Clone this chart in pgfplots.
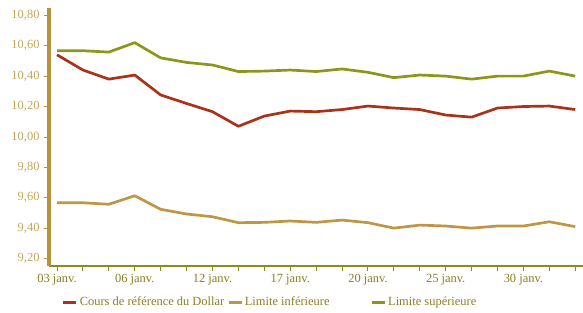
\documentclass[border=0pt]{standalone}
\usepackage{pgfplots}
\pgfplotsset{compat=1.18}
\usepackage{fontspec}
\setmainfont{Liberation Serif}
\definecolor{cred}{HTML}{A8321A}
\definecolor{cgold}{HTML}{BE9646}
\definecolor{colive}{HTML}{8C961A}
\definecolor{axgold}{HTML}{B8923E}
\definecolor{axolive}{HTML}{8C8C1E}
\definecolor{ylab}{HTML}{C4A55A}
\definecolor{xlab}{HTML}{8A7E22}
\begin{document}
\begin{tikzpicture}
\begin{axis}[
  name=ax,
  scale only axis,
  width=534bp, height=258bp,
  xmin=-0.31, xmax=20.3,
  ymin=9.151, ymax=10.848,
  axis x line*=bottom, axis y line*=left,
  x axis line style={draw=axolive, line width=2.2pt, -},
  y axis line style={draw=axgold, line width=3.4pt, -},
  xtick={0,...,20},
  xticklabels={03 janv.,,,06 janv.,,,12 janv.,,,17 janv.,,,20 janv.,,,25 janv.,,,30 janv.,,},
  ytick={9.2,9.4,9.6,9.8,10.0,10.2,10.4,10.6,10.8},
  /pgf/number format/.cd, use comma, fixed, fixed zerofill, precision=2, assume math mode=true,
  /pgfplots/.cd,
  tick align=outside,
  major tick length=5bp,
  x tick style={draw=axolive, line width=1pt},
  y tick style={draw=axgold, line width=0.8pt},
  tick label style={font=\fontsize{12.5}{14}\selectfont},
  yticklabel style={text=ylab, xshift=-1bp},
  xticklabel style={text=xlab},
  legend columns=3,
  legend style={at={(axis description cs:0,0)}, anchor=north west, xshift=10bp, yshift=-27bp,
    draw=none, fill=none, font=\fontsize{12.5}{14}\selectfont, text=xlab,
    /tikz/every even column/.append style={column sep=1bp}},
  legend image code/.code={\draw[#1, line width=2.6pt] (0bp,0bp) -- (13bp,0bp);},
  every axis plot/.append style={line width=2.7pt, no markers, line join=round},
]
\addplot[cred] coordinates {
(0,10.54) (1,10.44) (2,10.38) (3,10.407) (4,10.276) (5,10.22) (6,10.166) (7,10.07)
(8,10.137) (9,10.17) (10,10.166) (11,10.18) (12,10.203) (13,10.19) (14,10.18)
(15,10.144) (16,10.13) (17,10.19) (18,10.20) (19,10.203) (20,10.18)};
\addlegendentry{Cours de référence du Dollar}
\addplot[cgold] coordinates {
(0,9.567) (1,9.567) (2,9.557) (3,9.613) (4,9.524) (5,9.493) (6,9.475) (7,9.436)
(8,9.438) (9,9.447) (10,9.438) (11,9.453) (12,9.436) (13,9.40) (14,9.42)
(15,9.414) (16,9.40) (17,9.414) (18,9.414) (19,9.442) (20,9.41)};
\addlegendentry{Limite inférieure\rule{38bp}{0pt}}
\addplot[colive] coordinates {
(0,10.567) (1,10.567) (2,10.558) (3,10.62) (4,10.52) (5,10.49) (6,10.473) (7,10.43)
(8,10.433) (9,10.44) (10,10.43) (11,10.447) (12,10.425) (13,10.39) (14,10.407)
(15,10.40) (16,10.38) (17,10.40) (18,10.40) (19,10.433) (20,10.40)};
\addlegendentry{Limite supérieure}
\end{axis}
\pgfresetboundingbox
\useasboundingbox ([xshift=-49bp,yshift=-47bp]ax.south west) rectangle ([yshift=8bp]ax.north east);
\end{tikzpicture}
\end{document}
